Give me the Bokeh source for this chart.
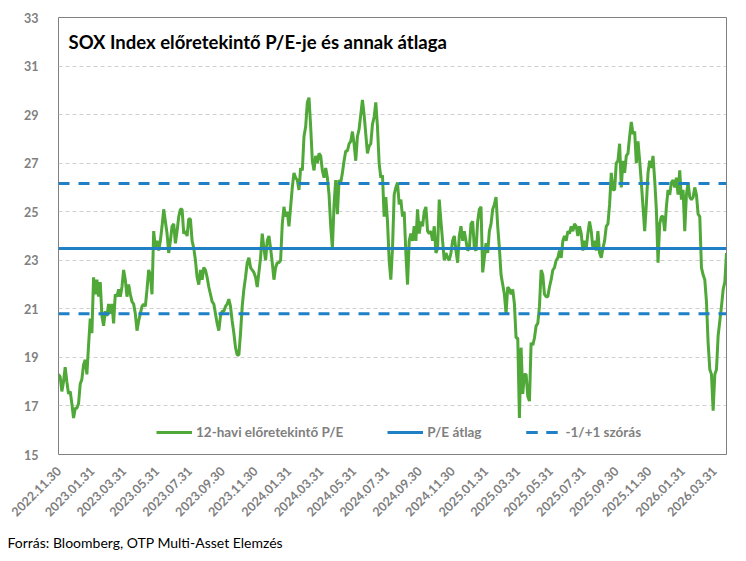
import pandas as pd
from bokeh.plotting import figure
from bokeh.models import (Range1d, FixedTicker, DatetimeTickFormatter, Legend, LegendItem,
                          Label, Title, ColumnDataSource)
from bokeh.embed import file_html
from bokeh.resources import INLINE
from math import pi

# ---------------- data ----------------
start_date = "2022-11-30"
end_date = "2026-04-23"

pe = [
    18.3, 18.2, 17.6, 18.0, 18.6, 18.0, 17.5, 17.6, 17.1, 16.5,
    16.9, 16.9, 17.1, 17.9, 18.1, 18.7, 18.9, 18.3, 19.5, 20.6,
    20.0, 22.3, 21.6, 22.2, 21.5, 22.1, 20.7, 20.3, 20.9, 20.7,
    21.2, 20.8, 21.2, 20.4, 21.6, 21.5, 21.8, 21.5, 21.9, 22.6,
    22.2, 21.5, 22.0, 21.6, 21.3, 21.2, 20.8, 20.1, 20.5, 20.8,
    21.1, 21.2, 21.1, 21.8, 22.6, 22.4, 21.6, 24.2, 23.5, 23.8,
    23.4, 23.8, 24.4, 25.1, 24.6, 24.1, 23.3, 23.8, 24.4, 24.5,
    23.7, 24.2, 24.8, 25.1, 25.1, 24.1, 24.2, 24.0, 24.7, 24.7,
    23.8, 23.5, 23.0, 22.3, 22.0, 22.6, 22.2, 22.7, 22.6, 22.3,
    21.9, 21.6, 21.3, 21.2, 20.8, 20.4, 20.1, 20.7, 20.9, 20.9,
    21.1, 21.2, 21.4, 21.1, 20.5, 20.0, 19.4, 19.1, 19.1, 20.0,
    21.1, 21.8, 22.3, 22.9, 23.1, 22.7, 22.6, 22.5, 22.3, 21.9,
    22.5, 23.1, 24.1, 23.5, 23.0, 23.8, 24.0, 23.5, 22.9, 22.2,
    22.7, 22.9, 22.9, 23.0, 24.5, 25.2, 24.8, 25.0, 24.4, 25.2,
    26.0, 26.6, 26.4, 26.3, 25.9, 26.8, 26.7, 28.1, 28.5, 29.5,
    29.7, 28.5, 27.1, 26.7, 27.3, 27.0, 27.4, 27.3, 26.7, 26.4,
    26.8, 26.4, 25.7, 24.4, 23.5, 25.3, 26.3, 24.9, 26.3, 26.2,
    26.6, 27.1, 27.5, 27.5, 27.8, 27.9, 28.3, 27.8, 27.1, 28.1,
    28.4, 29.0, 29.6, 29.0, 28.2, 27.4, 27.7, 27.8, 28.6, 28.9,
    29.5, 28.5, 27.0, 26.4, 26.5, 24.8, 25.6, 24.6, 23.0, 22.2,
    23.5, 25.7, 26.0, 26.2, 25.3, 25.5, 24.8, 25.0, 23.3, 22.0,
    23.8, 24.1, 23.8, 24.4, 23.8, 25.1, 24.1, 24.6, 24.4, 25.0,
    25.2, 24.2, 24.1, 24.2, 23.8, 24.4, 23.3, 23.5, 25.5, 24.6,
    23.8, 23.0, 23.3, 23.1, 23.0, 23.3, 23.8, 24.0, 23.4, 22.9,
    24.0, 24.4, 23.8, 24.2, 23.8, 23.4, 23.5, 24.5, 24.6, 23.5,
    23.4, 24.6, 25.1, 25.2, 22.5, 23.1, 23.7, 23.3, 24.2, 24.5,
    25.1, 25.3, 25.6, 24.4, 23.5, 22.4, 22.0, 21.6, 20.8, 21.9,
    21.8, 21.6, 21.8, 21.2, 19.8, 19.8, 16.5, 19.4, 17.5, 18.3,
    18.3, 17.4, 17.2, 19.6, 19.5, 19.8, 20.3, 20.4, 21.1, 22.6,
    22.4, 21.6, 21.5, 21.5, 21.9, 22.2, 22.6, 22.7, 23.0, 23.1,
    23.4, 23.1, 23.8, 24.0, 23.8, 24.2, 24.1, 24.4, 24.2, 24.5,
    24.4, 24.0, 24.4, 24.1, 23.4, 23.8, 23.5, 24.1, 24.6, 24.2,
    23.5, 23.8, 23.4, 24.2, 23.3, 23.1, 23.5, 23.8, 24.4, 24.5,
    25.3, 26.6, 25.9, 25.9, 27.0, 27.1, 27.8, 26.0, 27.1, 26.6,
    27.3, 27.4, 28.1, 28.7, 28.2, 28.3, 27.0, 27.9, 27.1, 26.2,
    25.2, 24.2, 25.3, 26.6, 27.1, 26.8, 27.3, 26.3, 25.1, 22.9,
    24.5, 24.8, 24.8, 24.2, 25.2, 25.9, 25.7, 26.2, 26.3, 26.0,
    26.4, 25.7, 26.7, 25.5, 25.9, 24.2, 25.7, 26.2, 25.6, 25.5,
    25.6, 26.0, 25.7, 24.9, 24.8, 22.7, 22.4, 22.2, 21.3, 19.6,
    18.5, 18.3, 16.8, 18.3, 18.5, 19.9, 20.5, 21.1, 21.8, 22.1,
    23.3,
]

pe_mean = 23.48
pe_std = 2.68

tick_dates = ["2022-11-30", "2023-01-31", "2023-03-31", "2023-05-31", "2023-07-31",
              "2023-09-30", "2023-11-30", "2024-01-31", "2024-03-31", "2024-05-31",
              "2024-07-31", "2024-09-30", "2024-11-30", "2025-01-31", "2025-03-31",
              "2025-05-31", "2025-07-31", "2025-09-30", "2025-11-30", "2026-01-31",
              "2026-03-31"]
y_ticks = [15, 17, 19, 21, 23, 25, 27, 29, 31, 33]

labels = ["12-havi előretekintő P/E", "P/E átlag", "-1/+1 szórás"]
title_text = "SOX Index előretekintő P/E-je és annak átlaga"
source_text = "Forrás: Bloomberg, OTP Multi-Asset Elemzés"

# ---------------- build ----------------
dates = pd.date_range(start_date, end_date, periods=len(pe))
src = ColumnDataSource(dict(x=dates, y=pe))

x0, x1 = dates[0], dates[-1]
FONT = "Lato"
GREY = "#7f7f7f"
GREEN = "#4fa838"
BLUE = "#1f80c6"

p = figure(width=746, height=561, output_backend="svg", toolbar_location=None,
           x_axis_type="datetime",
           x_range=Range1d(x0, x1), y_range=Range1d(15, 33),
           min_border_left=58, min_border_right=20, min_border_top=17, min_border_bottom=107)
p.background_fill_color = "white"
p.border_fill_color = "white"
p.outline_line_color = "#808080"
p.outline_line_width = 1

# grid
p.xgrid.grid_line_color = None
p.ygrid.grid_line_color = "#d0d0d0"
p.ygrid.grid_line_dash = "4 3"
p.ygrid.grid_line_width = 1
p.ygrid.ticker = FixedTicker(ticks=y_ticks)

# axes
p.yaxis.ticker = FixedTicker(ticks=y_ticks)
p.xaxis.ticker = FixedTicker(ticks=[pd.Timestamp(d).timestamp() * 1000 for d in tick_dates])
fmt = "%Y.%m.%d"
p.xaxis.formatter = DatetimeTickFormatter(milliseconds=fmt, seconds=fmt, minsec=fmt, minutes=fmt,
                                          hourmin=fmt, hours=fmt, days=fmt, months=fmt, years=fmt)
p.xaxis.major_label_orientation = pi / 4
for ax in (p.xaxis, p.yaxis):
    ax.axis_line_color = None
    ax.major_tick_line_color = None
    ax.minor_tick_line_color = None
    ax.major_label_text_font = FONT
    ax.major_label_text_font_size = "12.5px"
    ax.major_label_text_font_style = "bold"
    ax.major_label_text_color = GREY
p.yaxis.major_label_standoff = 14
p.xaxis.major_label_standoff = 8

# lines
r_pe = p.line("x", "y", source=src, line_color=GREEN, line_width=3)
r_mean = p.line([x0, x1], [pe_mean, pe_mean], line_color=BLUE, line_width=3)
r_up = p.line([x0, x1], [pe_mean + pe_std, pe_mean + pe_std], line_color=BLUE, line_width=3,
              line_dash="11 9")
r_lo = p.line([x0, x1], [pe_mean - pe_std, pe_mean - pe_std], line_color=BLUE, line_width=3,
              line_dash="11 9")

legend = Legend(items=[LegendItem(label=labels[0], renderers=[r_pe]),
                       LegendItem(label=labels[1], renderers=[r_mean]),
                       LegendItem(label=labels[2], renderers=[r_up, r_lo])],
                orientation="horizontal", location=(98, 14))
legend.border_line_color = None
legend.background_fill_alpha = 0
legend.label_text_font = FONT
legend.label_text_font_size = "13.5px"
legend.label_text_font_style = "bold"
legend.label_text_color = GREY
legend.glyph_width = 36
legend.glyph_height = 16
legend.label_standoff = 4
legend.spacing = 44
legend.padding = 0
legend.margin = 0
p.add_layout(legend, "center")

title = Label(x=10, y=413, x_units="screen", y_units="screen", text=title_text,
              text_font=FONT, text_font_size="18.5px", text_font_style="bold",
              text_color="black", text_baseline="middle")
p.add_layout(title)

source = Title(text=source_text, align="left", offset=-51, standoff=17,
               text_font=FONT, text_font_size="14px", text_color="black",
               text_font_style="normal")
p.add_layout(source, "below")

open("out.html", "w").write(file_html(p, INLINE))
